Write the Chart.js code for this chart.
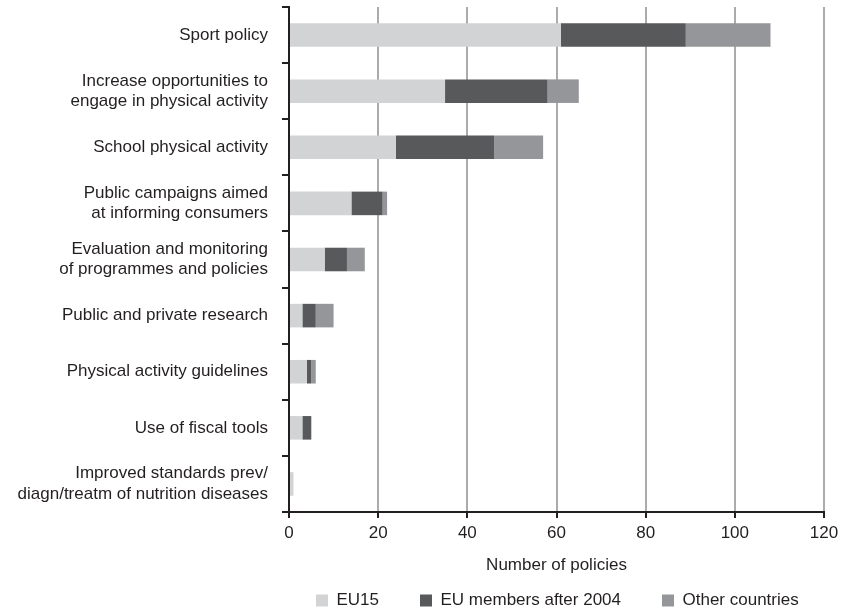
<!DOCTYPE html>
<html>
<head>
<meta charset="utf-8">
<script src="https://cdn.jsdelivr.net/npm/chart.js@4/dist/chart.umd.min.js"></script>
<style>
  html, body { margin: 0; padding: 0; background: #ffffff; }
  #wrap { width: 844px; height: 612px; position: relative; }
</style>
</head>
<body>
<div id="wrap"><canvas id="c" width="844" height="612"></canvas></div>
<script>
const categories = [
  "Sport policy",
  ["Increase opportunities to", "engage in physical activity"],
  "School physical activity",
  ["Public campaigns aimed", "at informing consumers"],
  ["Evaluation and monitoring", "of programmes and policies"],
  "Public and private research",
  "Physical activity guidelines",
  "Use of fiscal tools",
  ["Improved standards prev/", "diagn/treatm of nutrition diseases"]
];
const eu15 =        [61, 35, 24, 14, 8, 3, 4, 3, 1];
const euAfter2004 = [28, 23, 22,  7, 5, 3, 1, 2, 0];
const otherCountries = [19, 7, 11, 1, 4, 4, 1, 0, 0];
const seriesNames = ["EU15", "EU members after 2004", "Other countries"];
const xTicks = [0, 20, 40, 60, 80, 100, 120];
const xTitle = "Number of policies";

const FONT = "'Liberation Sans', Arial, sans-serif";
const TEXT = "#231f20";

// place the legend row under the plot like in the original
const legendPlace = {
  id: "legendPlace",
  afterLayout(chart) {
    const lg = chart.legend;
    const p = lg.options.labels.padding;
    lg.left = 316 - p;
    lg.right = chart.width;
    lg.top = 592 - p;
  }
};

new Chart(document.getElementById("c"), {
  type: "bar",
  data: {
    labels: categories,
    datasets: [
      { label: seriesNames[0], data: eu15, backgroundColor: "#d2d3d5" },
      { label: seriesNames[1], data: euAfter2004, backgroundColor: "#58595b" },
      { label: seriesNames[2], data: otherCountries, backgroundColor: "#959699" }
    ]
  },
  plugins: [legendPlace],
  options: {
    indexAxis: "y",
    responsive: false,
    animation: false,
    devicePixelRatio: 1,
    layout: { padding: { top: 7, right: 20, left: 0, bottom: -33 } },
    datasets: { bar: { barPercentage: 0.84, categoryPercentage: 0.5, borderWidth: 0 } },
    scales: {
      x: {
        stacked: true,
        min: 0, max: 120,
        afterBuildTicks: (s) => { s.ticks = xTicks.map(v => ({ value: v })); },
        grid: { color: "#ababab", lineWidth: 2, tickColor: TEXT, tickLength: 6, drawTicks: true },
        border: { color: TEXT, width: 2 },
        ticks: { color: TEXT, font: { family: FONT, size: 17 }, padding: 5 },
        title: { display: true, text: xTitle, color: TEXT, font: { family: FONT, size: 17 }, padding: { top: 0, bottom: 1 } },
        afterFit: (s) => { s.height = 65; }
      },
      y: {
        stacked: true,
        grid: { drawOnChartArea: false, color: TEXT, tickColor: TEXT, tickLength: 7, lineWidth: 2, offset: true },
        border: { color: TEXT, width: 2 },
        ticks: { color: TEXT, font: { family: FONT, size: 17, lineHeight: 1.2 }, padding: 14, autoSkip: false },
        afterFit: (s) => { s.width = 289; s.paddingTop = 0; s.paddingBottom = 0; }
      }
    },
    plugins: {
      tooltip: { enabled: false },
      legend: {
        position: "bottom",
        fullSize: true,
        align: "start",
        labels: {
          color: TEXT,
          font: { family: FONT, size: 17 },
          boxWidth: 12, boxHeight: 12,
          padding: 41,
          useBorderRadius: false
        }
      }
    }
  }
});
</script>
</body>
</html>
